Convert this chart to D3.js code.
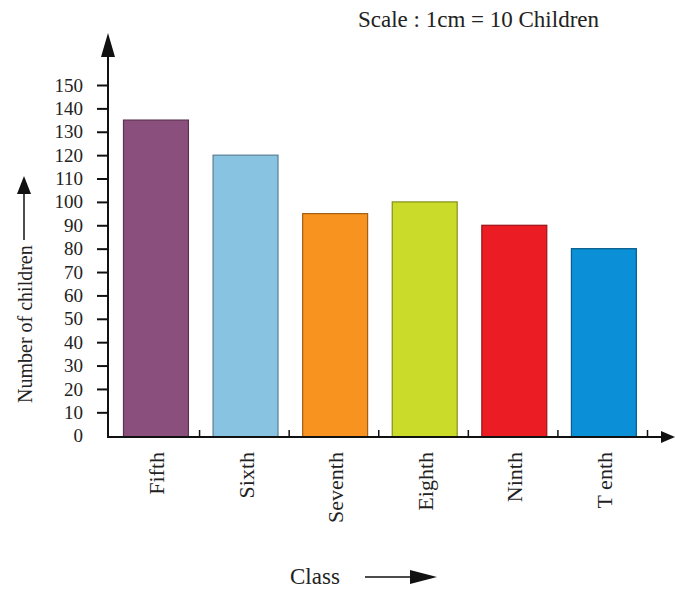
<!DOCTYPE html>
<html>
<head>
<meta charset="utf-8">
<script src="https://cdn.jsdelivr.net/npm/d3@7"></script>
<style>
  html, body { margin: 0; padding: 0; background: #fff; }
  svg { display: block; }
  text { font-family: "Liberation Serif", "Times New Roman", serif; fill: #222; }
</style>
</head>
<body>
<svg id="chart" width="675" height="590"></svg>
<script>
const classes = ["Fifth", "Sixth", "Seventh", "Eighth", "Ninth", "T enth"];
const children = [135, 120, 95, 100, 90, 80];
const barColors = ["#8a4f7d", "#88c3e1", "#f7931e", "#cbdb2a", "#ec1c24", "#0b8fd6"];
const yTicks = [0, 10, 20, 30, 40, 50, 60, 70, 80, 90, 100, 110, 120, 130, 140, 150];
const scaleNote = "Scale : 1cm = 10 Children";
const yTitle = "Number of children";
const xTitle = "Class";

const svg = d3.select("#chart");
const originX = 108, baseY = 437;

const x = d3.scaleBand().domain(classes).range([110.5, 648]).paddingInner(0).paddingOuter(0);
const y = d3.scaleLinear().domain([0, 150]).range([435.7, 85]);

// bars
const barOffset = x.step() * 0.145, barW = x.step() * 0.725;
svg.append("g").selectAll("rect").data(classes).join("rect")
  .attr("x", d => x(d) + barOffset)
  .attr("y", (d, i) => y(children[i]))
  .attr("width", barW)
  .attr("height", (d, i) => baseY - y(children[i]))
  .attr("fill", (d, i) => barColors[i])
  .attr("stroke", (d, i) => d3.color(barColors[i]).darker(1.2))
  .attr("stroke-width", 1.2);

// y axis
const yAxis = d3.axisLeft(y).tickValues(yTicks).tickSize(11).tickPadding(14).tickFormat(d3.format("d"));
const gy = svg.append("g").attr("transform", `translate(${originX},0)`).call(yAxis);
gy.select(".domain").remove();
gy.selectAll(".tick line").attr("stroke", "#111").attr("stroke-width", 2)
  .filter(d => d === 0).remove();
gy.selectAll(".tick text")
  .style("font-family", '"Liberation Serif", serif')
  .style("font-size", "19px").attr("fill", "#222");

// axis lines with arrows
svg.append("line").attr("x1", originX).attr("x2", originX).attr("y1", baseY + 1).attr("y2", 50)
  .attr("stroke", "#111").attr("stroke-width", 2);
svg.append("path").attr("d", `M${originX},33 L${originX - 7},57 L${originX + 7},57 Z`).attr("fill", "#111");

svg.append("line").attr("x1", originX - 1).attr("x2", 665).attr("y1", baseY).attr("y2", baseY)
  .attr("stroke", "#111").attr("stroke-width", 2);
svg.append("path").attr("d", `M675,${baseY} L661,${baseY - 6} L661,${baseY + 6} Z`).attr("fill", "#111");

// x category ticks (small upward ticks at band boundaries)
svg.append("g").selectAll("line").data(classes).join("line")
  .attr("x1", d => x(d) + x.step() - 0.5).attr("x2", d => x(d) + x.step() - 0.5)
  .attr("y1", baseY).attr("y2", baseY - 7)
  .attr("stroke", "#111").attr("stroke-width", 1.5);

// category labels (rotated)
svg.append("g").selectAll("text").data(classes).join("text")
  .attr("transform", d => `translate(${x(d) + barOffset + barW / 2 + 8},452) rotate(-90)`)
  .attr("text-anchor", "end")
  .style("font-size", "22px")
  .text(d => d);

// y title with arrow
svg.append("text")
  .attr("transform", "translate(32,403) rotate(-90)")
  .attr("text-anchor", "start")
  .style("font-size", "20px")
  .text(yTitle);
svg.append("line").attr("x1", 24).attr("x2", 24).attr("y1", 240).attr("y2", 190)
  .attr("stroke", "#111").attr("stroke-width", 1.5);
svg.append("path").attr("d", "M24,176 L17,194 L31,194 Z").attr("fill", "#111");

// x title with arrow
svg.append("text").attr("x", 290).attr("y", 584).style("font-size", "23px").text(xTitle);
svg.append("line").attr("x1", 365).attr("x2", 415).attr("y1", 577).attr("y2", 577)
  .attr("stroke", "#111").attr("stroke-width", 1.5);
svg.append("path").attr("d", "M437,577 L410,570 L410,584 Z").attr("fill", "#111");

// scale note
svg.append("text").attr("x", 358).attr("y", 27).style("font-size", "23px").text(scaleNote);
</script>
</body>
</html>
